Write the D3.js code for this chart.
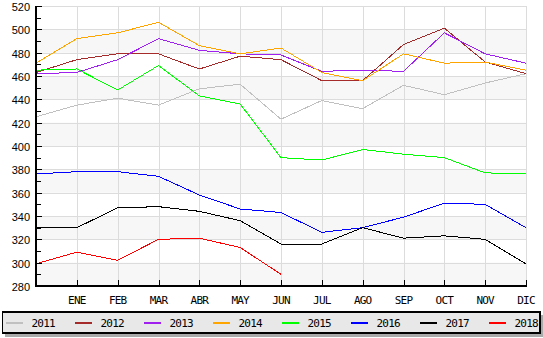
<!DOCTYPE html>
<html>
<head>
<meta charset="utf-8">
<script src="https://cdn.jsdelivr.net/npm/d3@7"></script>
<style>
  body { margin: 0; background: #fff; }
  svg { display: block; }
  .mono { font-family: "DejaVu Sans Mono", monospace; font-size: 11px; letter-spacing: -0.8px; fill: #000; }
  .ylab { font-family: "Liberation Sans", Arial, sans-serif; font-size: 11px; fill: #000; }
</style>
</head>
<body>
<svg id="chart" width="543" height="338"></svg>
<script>
// months along the x axis; slot 0 is the previous December (no label)
const months = ["", "ENE", "FEB", "MAR", "ABR", "MAY", "JUN", "JUL", "AGO", "SEP", "OCT", "NOV", "DIC"];
const years = ["2011", "2012", "2013", "2014", "2015", "2016", "2017", "2018"];
const colors = ["#c0c0c0", "#a52a2a", "#a020f0", "#ffa500", "#00ff00", "#0000ff", "#000000", "#ff0000"];

const v2011 = [425, 435, 441, 435, 449, 453, 423, 439, 432, 452, 444, 454, 462];
const v2012 = [463, 474, 479, 479, 466, 477, 474, 456, 456, 487, 501, 472, 462];
const v2013 = [462, 463, 474, 492, 482, 479, 478, 464, 465, 464, 497, 479, 471];
const v2014 = [471, 492, 497, 506, 486, 479, 484, 463, 456, 479, 471, 472, 465];
const v2015 = [465, 466, 448, 469, 443, 436, 390, 388, 397, 393, 390, 377, 376];
const v2016 = [376, 378, 378, 374, 358, 346, 343, 326, 330, 339, 351, 350, 330];
const v2017 = [330, 330, 347, 348, 344, 336, 316, 316, 330, 321, 323, 320, 299];
const v2018 = [299, 309, 302, 320, 321, 313, 290];
const series = [v2011, v2012, v2013, v2014, v2015, v2016, v2017, v2018];

const yTicks = d3.range(280, 521, 20);

const svg = d3.select("#chart");
const x = d3.scaleLinear().domain([0, 12]).range([36, 526]);
const y = d3.scaleLinear().domain([280, 520]).range([286, 6]);

// alternating background bands
const bands = svg.append("g");
yTicks.slice(0, -1).forEach((t, i) => {
    if (i % 2 === 0) {
        bands.append("rect")
            .attr("x", x(0)).attr("y", y(t + 20))
            .attr("width", x(12) - x(0)).attr("height", y(t) - y(t + 20))
            .attr("fill", "#f7f7f7");
    }
});

// grid
const grid = svg.append("g").attr("stroke", "#dcdcdc").attr("stroke-width", 1).attr("shape-rendering", "crispEdges");
yTicks.forEach(t => {
    grid.append("line").attr("x1", x(0)).attr("x2", x(12)).attr("y1", y(t) + 0.5).attr("y2", y(t) + 0.5);
});
d3.range(1, 13).forEach(i => {
    grid.append("line").attr("x1", x(i) + 0.5).attr("x2", x(i) + 0.5).attr("y1", y(520)).attr("y2", y(280));
});

// series lines
const line = d3.line().x((d, i) => x(i)).y(d => y(d));
series.forEach((vals, k) => {
    svg.append("path")
        .datum(vals)
        .attr("d", line)
        .attr("fill", "none")
        .attr("stroke", colors[k])
        .attr("stroke-width", 1)
        .attr("shape-rendering", "crispEdges");
});

// y axis
const yAxis = svg.append("g").attr("shape-rendering", "crispEdges");
yAxis.append("line").attr("x1", 36).attr("x2", 36).attr("y1", y(520)).attr("y2", y(280) + 1)
    .attr("stroke", "#000").attr("stroke-width", 2);
d3.range(280, 521, 10).forEach(t => {
    yAxis.append("line")
        .attr("x1", 36).attr("x2", t % 20 === 0 ? 42 : 41)
        .attr("y1", y(t) + 0.5).attr("y2", y(t) + 0.5)
        .attr("stroke", "#000").attr("stroke-width", 1);
});
yAxis.selectAll("text.ylab").data(yTicks).enter().append("text")
    .attr("class", "ylab")
    .attr("x", 30).attr("y", d => y(d) + 5)
    .attr("text-anchor", "end")
    .text(d => d);

// x axis
const xAxis = svg.append("g").attr("shape-rendering", "crispEdges");
xAxis.append("line").attr("x1", 35).attr("x2", x(12) + 1).attr("y1", 286).attr("y2", 286)
    .attr("stroke", "#000").attr("stroke-width", 2);
d3.range(1, 13).forEach(i => {
    xAxis.append("line").attr("x1", x(i) + 0.5).attr("x2", x(i) + 0.5).attr("y1", 280).attr("y2", 286)
        .attr("stroke", "#000").attr("stroke-width", 1);
});
xAxis.selectAll("text").data(months.slice(1)).enter().append("text")
    .attr("class", "mono")
    .attr("x", (d, i) => x(i + 1))
    .attr("y", 303.5)
    .attr("text-anchor", "middle")
    .text(d => d);

// legend
const legend = svg.append("g").attr("shape-rendering", "crispEdges");
legend.append("rect").attr("x", 5).attr("y", 315).attr("width", 539).attr("height", 22).attr("fill", "#aaaaaa");
legend.append("rect").attr("x", 2.5).attr("y", 312).attr("width", 537.5).attr("height", 21)
    .attr("fill", "#e8e8e8").attr("stroke", "#000").attr("stroke-width", 1.5);
years.forEach((yr, k) => {
    const lx = 6 + k * 69;
    legend.append("line").attr("x1", lx).attr("x2", lx + 17).attr("y1", 322.5).attr("y2", 322.5)
        .attr("stroke", colors[k]).attr("stroke-width", 2);
    legend.append("text").attr("class", "mono").attr("x", lx + 25.5).attr("y", 326.5).text(yr);
});
</script>
</body>
</html>
